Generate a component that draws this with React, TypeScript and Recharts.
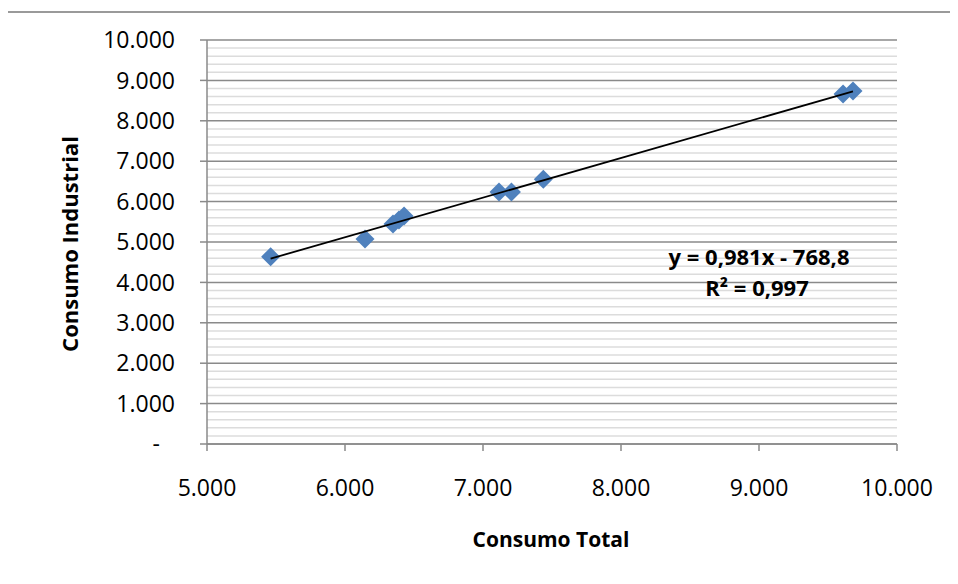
import React from 'react';
import { ScatterChart, Scatter, XAxis, YAxis, CartesianGrid, ReferenceLine } from 'recharts';

// Consumo Total (x) vs Consumo Industrial (y)
const consumoTotal = [5461, 6145, 6348, 6391, 6428, 7116, 7206, 7437, 9609, 9681];
const consumoIndustrial = [4636, 5074, 5446, 5545, 5644, 6238, 6238, 6552, 8663, 8738];

// linear trend from the chart label
const trendSlope = 0.981;
const trendIntercept = -768.8;

const xTicks = [5000, 6000, 7000, 8000, 9000, 10000];
const yTicks = [0, 1000, 2000, 3000, 4000, 5000, 6000, 7000, 8000, 9000, 10000];
const minorTicks = [
  200, 400, 600, 800, 1200, 1400, 1600, 1800, 2200, 2400, 2600, 2800,
  3200, 3400, 3600, 3800, 4200, 4400, 4600, 4800, 5200, 5400, 5600, 5800,
  6200, 6400, 6600, 6800, 7200, 7400, 7600, 7800, 8200, 8400, 8600, 8800,
  9200, 9400, 9600, 9800,
];

const points = consumoTotal.map((x, i) => ({ x, y: consumoIndustrial[i] }));
const xMin = Math.min(...consumoTotal);
const xMax = Math.max(...consumoTotal);
const trend = [xMin, xMax].map(x => ({ x, y: trendSlope * x + trendIntercept }));

const FONT = '"Open Sans", sans-serif';
const AXIS = '#8a8a8a';

const fmt = (v: number) => v.toLocaleString('de-DE');

const Diamond = (props: any) => {
  const { cx, cy } = props;
  const r = 9.5;
  return (
    <polygon
      points={`${cx},${cy - r} ${cx + r},${cy} ${cx},${cy + r} ${cx - r},${cy}`}
      fill="#4F81BD"
    />
  );
};

const YTick = (props: any) => {
  const { x, y, payload } = props;
  const v = payload.value;
  return (
    <text x={v === 0 ? x - 15 : x} y={y} dy="0.355em" textAnchor="end" fill="#000" fontSize={23} fontFamily={FONT}>
      {v === 0 ? '-' : fmt(v)}
    </text>
  );
};

const App: React.FC = () => {
  return (
    <div style={{ position: 'relative', width: 958, height: 584, margin: '-8px 0 0 -8px', overflow: 'hidden', background: '#fff' }}>
      <div style={{ position: 'absolute', left: 6, top: 11, width: 1000, height: 1000, border: '2px solid #9a9a9a' }} />
      <div style={{ position: 'absolute', left: 0, top: 0 }}>
        <ScatterChart width={958} height={584} margin={{ top: 40, right: 61, bottom: 110, left: 147 }}>
          <CartesianGrid vertical={false} stroke={AXIS} strokeWidth={1.5} />
          {minorTicks.map(v => (
            <ReferenceLine key={v} y={v} stroke="#dcdcdc" strokeWidth={1.5} />
          ))}
          <XAxis
            type="number"
            dataKey="x"
            domain={[5000, 10000]}
            ticks={xTicks}
            tickFormatter={fmt}
            allowDataOverflow
            height={30}
            tickSize={7}
            tickMargin={29}
            axisLine={{ stroke: AXIS, strokeWidth: 1.5 }}
            tickLine={{ stroke: AXIS, strokeWidth: 1.5 }}
            tick={{ fill: '#000', fontSize: 23, fontFamily: FONT }}
          />
          <YAxis
            type="number"
            dataKey="y"
            domain={[0, 10000]}
            ticks={yTicks}
            allowDataOverflow
            width={60}
            tickSize={7}
            tickMargin={25}
            axisLine={{ stroke: AXIS, strokeWidth: 1.5 }}
            tickLine={{ stroke: AXIS, strokeWidth: 1.5 }}
            tick={<YTick />}
          />
          <Scatter data={points} shape={<Diamond />} isAnimationActive={false} />
          <Scatter
            data={trend}
            shape={() => <g />}
            line={{ stroke: '#000', strokeWidth: 1.8 }}
            isAnimationActive={false}
          />
        </ScatterChart>
      </div>
      <svg width={958} height={584} style={{ position: 'absolute', left: 0, top: 0, pointerEvents: 'none' }}>
        <g fontFamily={FONT} fontWeight="bold" fill="#000" textAnchor="middle">
          <text x={551} y={547} fontSize={21}>Consumo Total</text>
          <text transform="translate(78,244) rotate(-90)" fontSize={22}>Consumo Industrial</text>
          <text x={759} y={265} fontSize={22}>y = 0,981x - 768,8</text>
          <text x={757} y={296} fontSize={22}>R² = 0,997</text>
        </g>
      </svg>
    </div>
  );
};

export default App;
